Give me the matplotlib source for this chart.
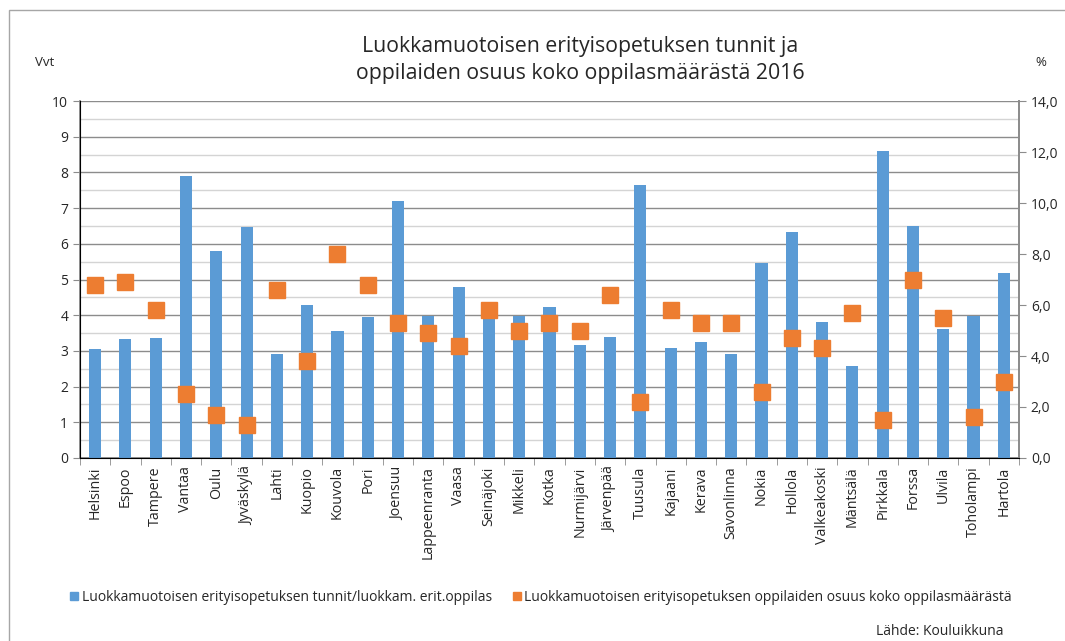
import matplotlib.pyplot as plt
import numpy as np
from matplotlib.ticker import MultipleLocator, FuncFormatter
from matplotlib.patches import Patch

plt.rcParams['font.family'] = ['Open Sans', 'DejaVu Sans']

cities = ['Helsinki', 'Espoo', 'Tampere', 'Vantaa', 'Oulu', 'Jyväskylä', 'Lahti',
          'Kuopio', 'Kouvola', 'Pori', 'Joensuu', 'Lappeenranta', 'Vaasa',
          'Seinäjoki', 'Mikkeli', 'Kotka', 'Nurmijärvi', 'Järvenpää', 'Tuusula',
          'Kajaani', 'Kerava', 'Savonlinna', 'Nokia', 'Hollola', 'Valkeakoski',
          'Mäntsälä', 'Pirkkala', 'Forssa', 'Ulvila', 'Toholampi', 'Hartola']

# vuosiviikkotunnit / luokkamuotoinen erityisoppilas
tunnit = [3.04, 3.32, 3.37, 7.90, 5.79, 6.48, 2.90, 4.28, 3.55, 3.96, 7.21,
          3.99, 4.79, 3.89, 3.99, 4.22, 3.17, 3.38, 7.64, 3.09, 3.26, 2.90,
          5.46, 6.32, 3.82, 2.59, 8.61, 6.49, 3.60, 3.99, 5.17]

# oppilaiden osuus koko oppilasmäärästä, %
osuus = [6.8, 6.9, 5.8, 2.5, 1.7, 1.3, 6.6, 3.8, 8.0, 6.8, 5.3,
         4.9, 4.4, 5.8, 5.0, 5.3, 5.0, 6.4, 2.2, 5.8, 5.3, 5.3,
         2.6, 4.7, 4.3, 5.7, 1.5, 7.0, 5.5, 1.6, 3.0]

lab1 = 'Luokkamuotoisen erityisopetuksen tunnit/luokkam. erit.oppilas'
lab2 = 'Luokkamuotoisen erityisopetuksen oppilaiden osuus koko oppilasmäärästä'

blue = '#5B9BD5'
orange = '#ED7D31'
txt = '#262626'

fig = plt.figure(figsize=(10.65, 6.41), dpi=100)
ax = fig.add_axes([0.0751, 0.2855, 0.8817, 0.5569])
x = np.arange(len(cities))

ax.bar(x, tunnit, width=0.40, color=blue, zorder=3)
ax.set_xlim(-0.5, len(cities) - 0.5)
ax.set_ylim(0, 10)
ax.yaxis.set_major_locator(MultipleLocator(1))
ax.yaxis.set_minor_locator(MultipleLocator(0.5))
ax.grid(axis='y', which='major', color='#8c8c8c', linewidth=1, zorder=0)
ax.grid(axis='y', which='minor', color='#d4d4d4', linewidth=1, zorder=0)
ax.tick_params(axis='y', which='minor', length=0)
ax.tick_params(axis='y', which='major', length=5, color='#8c8c8c', labelsize=10, labelcolor=txt)

ax.set_xticks(x)
ax.set_xticklabels(cities, rotation=90, fontsize=10.3, color=txt)
ax.tick_params(axis='x', which='major', length=0, pad=6)
ax.set_xticks(np.arange(-0.5, len(cities)), minor=True)
ax.tick_params(axis='x', which='minor', length=5, color='#8c8c8c')

ax.spines['top'].set_visible(False)
for s in ['left', 'bottom', 'right']:
    ax.spines[s].set_color('#8c8c8c')
    ax.spines[s].set_linewidth(1.3)

ax2 = ax.twinx()
ax2.plot(x, osuus, linestyle='none', marker='s', markersize=11, color=orange, zorder=5)
ax2.set_ylim(0, 14)
ax2.yaxis.set_major_locator(MultipleLocator(2))
ax2.yaxis.set_major_formatter(FuncFormatter(lambda v, p: f'{v:.1f}'.replace('.', ',')))
ax2.tick_params(axis='y', length=5, color='#8c8c8c', labelsize=10, labelcolor=txt)
ax2.spines['top'].set_visible(False)
ax2.spines['right'].set_color('#8c8c8c')
ax2.spines['right'].set_linewidth(1.3)

fig.text(0.545, 0.906, 'Luokkamuotoisen erityisopetuksen tunnit ja\noppilaiden osuus koko oppilasmäärästä 2016',
         ha='center', va='center', fontsize=15.3, color=txt, linespacing=1.4)
fig.text(0.042, 0.902, 'Vvt', ha='center', va='center', fontsize=9.5, color=txt)
fig.text(0.977, 0.902, '%', ha='center', va='center', fontsize=9.5, color=txt)

handles = [Patch(color=blue), Patch(color=orange)]
fig.legend(handles, [lab1, lab2], loc='center', bbox_to_anchor=(0.508, 0.068), ncol=2,
           frameon=False, fontsize=10, handlelength=0.6, handleheight=0.6,
           handletextpad=0.25, columnspacing=1.5, labelcolor=txt)
fig.text(0.942, 0.015, 'Lähde: Kouluikkuna', ha='right', va='center', fontsize=10, color=txt)

# kehys
fig.patches.append(plt.Rectangle((0.008, -0.1), 1.2, 1.084, transform=fig.transFigure,
                                 fill=False, edgecolor='#a6a6a6', linewidth=1))

fig.savefig('out.png', dpi=100)
